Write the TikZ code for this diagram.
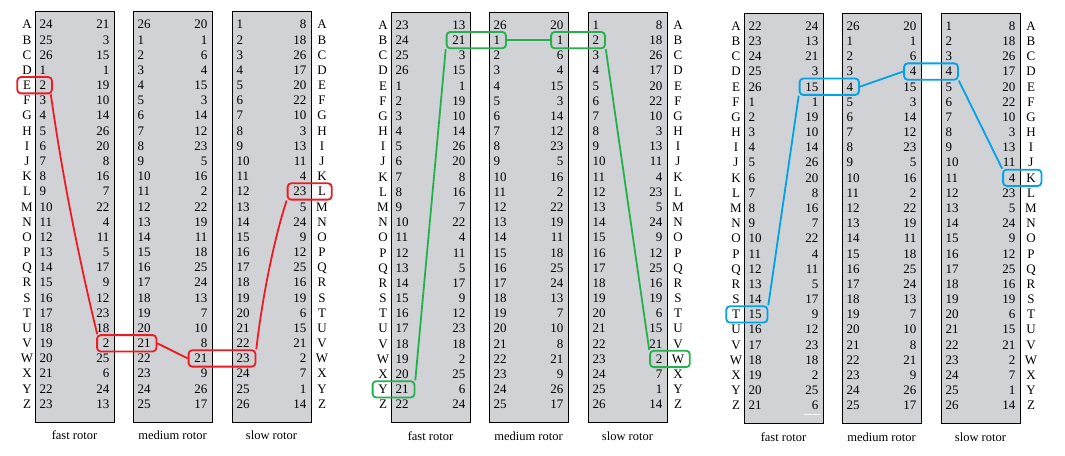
\documentclass[tikz,border=0pt]{standalone}
\usepackage{fontspec}
\setmainfont{Liberation Serif}
\usetikzlibrary{fit}
\definecolor{hlred}{RGB}{237,28,36}
\definecolor{hlgreen}{RGB}{34,177,76}
\definecolor{hlblue}{RGB}{0,162,232}
\definecolor{rotorfill}{RGB}{209,210,213}
\newcommand\numfont{\fontsize{13}{15}\selectfont}
\newcommand\labfont{\fontsize{12.5}{14}\selectfont}
% #1 prefix, #2 x left, #3 dy, #4 label, #5 macro holding list of left/right numbers
\newcommand\drawrotor[5]{%
  \node[rotorbox, anchor=north west] (#1box) at (#2, 11+#3) {};
  \foreach \l/\r [count=\i] in #5 {
    \node[num, anchor=west] (#1l\i) at (#2+4.5, 24.5+#3+\i*15.18-15.18) {\l};
    \node[num, anchor=east] (#1r\i) at (#2+74.5, 24.5+#3+\i*15.18-15.18) {\r};
  }
  \node[lab] (#1lab) at (#2+39.5, 435.5+#3) {#4};
}
% #1 prefix, #2 x of fast rotor, #3 dy
\newcommand\drawletters[3]{%
  \foreach \L [count=\i] in {A,...,Z} {
    \node[num] (#1LL\i) at (#2-8, 24.5+#3+\i*15.18-15.18) {\L};
    \node[num] (#1RL\i) at (#2+287, 24.5+#3+\i*15.18-15.18) {\L};
  }
}
\newcommand\fastlistA{24/21,25/3,26/15,1/1,2/19,3/10,4/14,5/26,6/20,7/8,8/16,9/7,10/22,11/4,12/11,13/5,14/17,15/9,16/12,17/23,18/18,19/2,20/25,21/6,22/24,23/13}
\newcommand\fastlistB{23/13,24/21,25/3,26/15,1/1,2/19,3/10,4/14,5/26,6/20,7/8,8/16,9/7,10/22,11/4,12/11,13/5,14/17,15/9,16/12,17/23,18/18,19/2,20/25,21/6,22/24}
\newcommand\fastlistC{22/24,23/13,24/21,25/3,26/15,1/1,2/19,3/10,4/14,5/26,6/20,7/8,8/16,9/7,10/22,11/4,12/11,13/5,14/17,15/9,16/12,17/23,18/18,19/2,20/25,21/6}
\newcommand\medlist{26/20,1/1,2/6,3/4,4/15,5/3,6/14,7/12,8/23,9/5,10/16,11/2,12/22,13/19,14/11,15/18,16/25,17/24,18/13,19/7,20/10,21/8,22/21,23/9,24/26,25/17}
\newcommand\slowlist{1/8,2/18,3/26,4/17,5/20,6/22,7/10,8/3,9/13,10/11,11/4,12/23,13/5,14/24,15/9,16/12,17/25,18/16,19/19,20/6,21/15,22/21,23/2,24/7,25/1,26/14}
\begin{document}
\begin{tikzpicture}[x=1pt,y=-1pt,
  rotorbox/.style={draw=black,line width=1.2pt,fill=rotorfill,minimum width=79pt,minimum height=410.5pt,inner sep=0pt},
  num/.style={inner sep=0pt,text height=8.7pt,text depth=0pt,font=\numfont},
  lab/.style={inner sep=0pt,font=\labfont},
  hl/.style={draw=#1,line width=1.8pt,rounded corners=3.5pt,inner xsep=5.5pt,inner ysep=3.6pt},
  conn/.style={draw=#1,line width=1.8pt}]
\useasboundingbox (0,0) rectangle (1065,455);

% ---------- panel 1 ----------
\drawrotor{p1f}{35}{0}{fast rotor}{\fastlistA}
\drawrotor{p1m}{133}{0}{medium rotor}{\medlist}
\drawrotor{p1s}{232}{0}{slow rotor}{\slowlist}
\drawletters{p1}{35}{0}

% ---------- panel 2 ----------
\drawrotor{p2f}{391}{0.5}{fast rotor}{\fastlistB}
\drawrotor{p2m}{489}{0.5}{medium rotor}{\medlist}
\drawrotor{p2s}{588}{0.5}{slow rotor}{\slowlist}
\drawletters{p2}{391}{0.5}

% ---------- panel 3 ----------
\drawrotor{p3f}{744}{1.5}{fast rotor}{\fastlistC}
\drawrotor{p3m}{842}{1.5}{medium rotor}{\medlist}
\drawrotor{p3s}{941}{1.5}{slow rotor}{\slowlist}
\drawletters{p3}{744}{1.5}
\draw[white, line width=1pt] (804,414.5) -- (820,414.5);

% ---------- highlights panel 1 (red) ----------
\node[hl=hlred, fit=(p1LL5)(p1fl5)] (p1bE) {};
\node[hl=hlred, fit=(p1fr22)(p1ml22)] (p1bV) {};
\node[hl=hlred, fit=(p1mr23)(p1sl23)] (p1bW) {};
\node[hl=hlred, fit=(p1sr12)(p1RL12)] (p1bL) {};
\draw[conn=hlred] ([xshift=-2pt]p1bE.south east) .. controls +(11.5,81) and +(-19.5,-81) .. ([xshift=1pt]p1bV.north west);
\draw[conn=hlred] (p1bV.east) -- (p1bW.west);
\draw[conn=hlred] (p1bW.north east) .. controls +(7,-62) and +(-9,26) .. (p1bL.south west);

% ---------- highlights panel 2 (green) ----------
\node[hl=hlgreen, fit=(p2LL25)(p2fl25)] (p2bY) {};
\node[hl=hlgreen, fit=(p2fr2)(p2ml2)] (p2bB) {};
\node[hl=hlgreen, fit=(p2mr2)(p2sl2)] (p2bB2) {};
\node[hl=hlgreen, fit=(p2sr23)(p2RL23)] (p2bW) {};
\draw[conn=hlgreen] (p2bY.north east) -- (p2bB.south west);
\draw[conn=hlgreen] (p2bB.east) -- (p2bB2.west);
\draw[conn=hlgreen] (p2bB2.south east) -- (p2bW.north west);

% ---------- highlights panel 3 (blue) ----------
\node[hl=hlblue, fit=(p3LL20)(p3fl20)] (p3bT) {};
\node[hl=hlblue, fit=(p3fr5)(p3ml5)] (p3bE) {};
\node[hl=hlblue, fit=(p3mr4)(p3sl4)] (p3bD) {};
\node[hl=hlblue, fit=(p3sr11)(p3RL11)] (p3bK) {};
\draw[conn=hlblue] (p3bT.north east) -- (p3bE.south west);
\draw[conn=hlblue] (p3bE.east) -- (p3bD.west);
\draw[conn=hlblue] (p3bD.south east) -- (p3bK.north west);
\end{tikzpicture}
\end{document}
